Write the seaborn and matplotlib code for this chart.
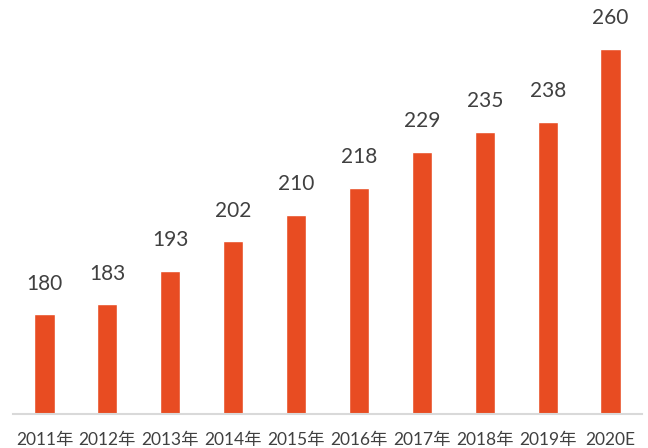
import matplotlib
matplotlib.use("Agg")
import matplotlib.pyplot as plt
import seaborn as sns
import pandas as pd

years = ["2011年", "2012年", "2013年", "2014年", "2015年", "2016年", "2017年", "2018年", "2019年", "2020E"]
values = [180, 183, 193, 202, 210, 218, 229, 235, 238, 260]

sns.set_style("white")
plt.rcParams['font.family'] = ['Lato', 'Noto Sans CJK SC', 'DejaVu Sans']

df = pd.DataFrame({"year": years, "value": values})

fig = plt.figure(figsize=(6.48, 4.48), dpi=100)
ax = fig.add_axes([13/648, 34/448, 629/648, 414/448])
sns.barplot(data=df, x="year", y="value", color="#E84C22", width=0.32, ax=ax, saturation=1)

ax.set_ylim(150, 274.7)
ax.set_xlim(-0.5, 9.5)
ax.set_xlabel("")
ax.set_ylabel("")
ax.set_yticks([])
for s in ["top", "right", "left"]:
    ax.spines[s].set_visible(False)
ax.spines["bottom"].set_color("#D9D9D9")
ax.spines["bottom"].set_linewidth(1.5)
ax.tick_params(axis="x", length=0, pad=13, labelsize=12.5, labelcolor="#404040")

for i, v in enumerate(values):
    ax.annotate(str(v), (i, v), xytext=(0, 15), textcoords="offset points",
                ha="center", va="bottom", fontsize=15, color="#404040")

fig.savefig("out.png", dpi=100)
